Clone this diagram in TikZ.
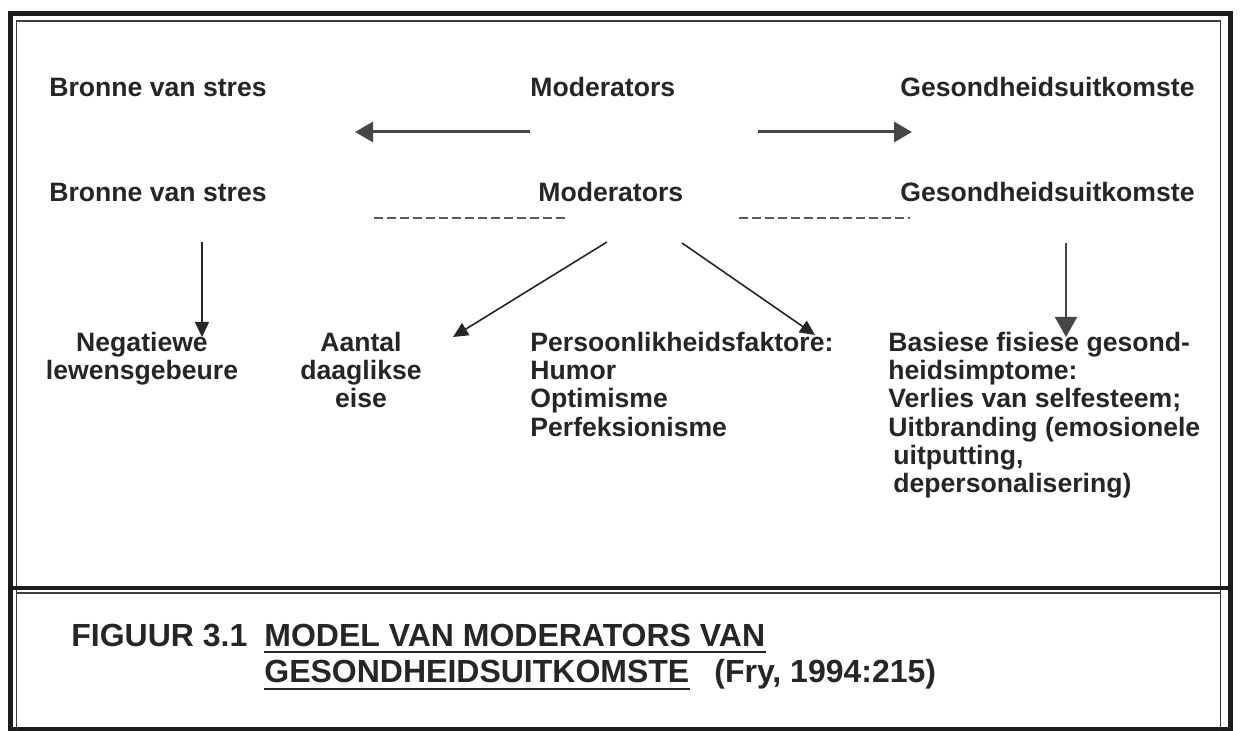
\documentclass[tikz,border=0pt]{standalone}
\usepackage{fontspec}
\setmainfont{Liberation Sans}
\usepackage{xcolor}
\usepackage{tikz}
\usetikzlibrary{arrows.meta,calc}
\definecolor{ink}{HTML}{262626}
\definecolor{frameC}{HTML}{1C1C1C}
\definecolor{grey}{HTML}{474747}
\definecolor{dashgrey}{HTML}{5A5A5A}
\tikzset{
  frame/.style={draw=frameC, line width=2.5pt},
  inner/.style={draw=frameC!85, line width=0.6pt},
  lab/.style={text=ink, font=\fontsize{13.3}{14.1}\selectfont\bfseries, inner sep=0pt},
  capt/.style={text=ink, font=\fontsize{16}{20.5}\selectfont\bfseries, inner sep=0pt},
  arrA/.style={draw=grey, line width=1.5pt, -{Triangle[length=9pt,width=10pt]}},
  arrB/.style={draw=ink, line width=0.8pt, -{Triangle[length=7.5pt,width=7pt]}},
  arrC/.style={draw=grey, line width=1pt, -{Triangle[length=10pt,width=11pt]}},
  dashln/.style={draw=dashgrey, line width=1pt, dash pattern=on 4.5pt off 2pt},
  uline/.style={draw=ink, line width=1.4pt}
}

\begin{document}
\begin{tikzpicture}[x=0.5pt,y=-0.5pt]
  \useasboundingbox (0,0) rectangle (1244,731);
  \fill[white] (0,0) rectangle (1244,731);

  % double frame and divider
  \draw[frame] (10.5,14) rectangle (1230.5,729.5);
  \draw[inner] (16.5,729) -- (16.5,21) -- (1220.5,21) -- (1220.5,729);
  \draw[frame, line width=2pt] (10.5,588.5) -- (1230.5,588.5);
  \draw[inner] (16.5,593) -- (1220.5,593);

  % heading rows
  \node[lab, anchor=base west] (bron1) at (49,96.5) {Bronne van stres};
  \node[lab, anchor=base west] (mod1) at (530,96.5) {Moderators};
  \node[lab, anchor=base west] (ges1) at (900,96.5) {Gesondheidsuitkomste};
  \node[lab, anchor=base west] (bron2) at (49,201.5) {Bronne van stres};
  \node[lab, anchor=base west] (mod2) at (538,201.5) {Moderators};
  \node[lab, anchor=base west] (ges2) at (900,201.5) {Gesondheidsuitkomste};

  \coordinate (a1s) at (530,132);
  \coordinate (a1e) at (355,132);
  \coordinate (a2s) at (758,132);
  \coordinate (a2e) at (912,132);
  \draw[arrA] (a1s) -- (a1e);
  \draw[arrA] (a2s) -- (a2e);

  \draw[dashln] (374,218) -- (567,218);
  \draw[dashln] (739,218) -- (910,218);

  % lower row (base = last line)
  \node[lab, anchor=base, align=center] (neg) at (142,379.7) {Negatiewe\\lewensgebeure};
  \node[lab, anchor=base, align=center] (aant) at (361,407.9) {Aantal\\daaglikse\\eise};
  \node[lab, anchor=base west, align=left] (pers) at (530,436.1)
    {Persoonlikheidsfaktore:\\Humor\\Optimisme\\Perfeksionisme};
  \node[lab, anchor=base west, align=left] (basi) at (888,492.5)
    {Basiese fisiese gesond-\\heidsimptome:\\Verlies van selfesteem;\\Uitbranding (emosionele\\\hspace{2.5pt}uitputting,\\\hspace{2.5pt}depersonalisering)};

  \coordinate (b1s) at (202,242);
  \coordinate (b1e) at (202,337);
  \coordinate (b2s) at (607,242);
  \coordinate (b2e) at (453,337);
  \coordinate (b3s) at (682,243);
  \coordinate (b3e) at (815,335);
  \coordinate (b4s) at (1066,243);
  \coordinate (b4e) at (1066,337);
  \draw[arrB] (b1s) -- (b1e);
  \draw[arrB] (b2s) -- (b2e);
  \draw[arrB] (b3s) -- (b3e);
  \draw[arrC] (b4s) -- (b4e);

  % caption
  \node[capt, anchor=base west] (fig) at (71,646.5) {FIGUUR 3.1};
  \node[capt, anchor=base west] (titA) at (264,646.5) {MODEL VAN MODERATORS VAN};
  \node[capt, anchor=base west] (titB) at (264,683) {GESONDHEIDSUITKOMSTE};
  \node[capt, anchor=base west] (src) at (714,683) {(Fry, 1994:215)};
  \draw[uline] ($(titA.base west)+(0,5.5)$) -- ($(titA.base east)+(0,5.5)$);
  \draw[uline] ($(titB.base west)+(0,6)$) -- ($(titB.base east)+(0,6)$);
\end{tikzpicture}
\end{document}
